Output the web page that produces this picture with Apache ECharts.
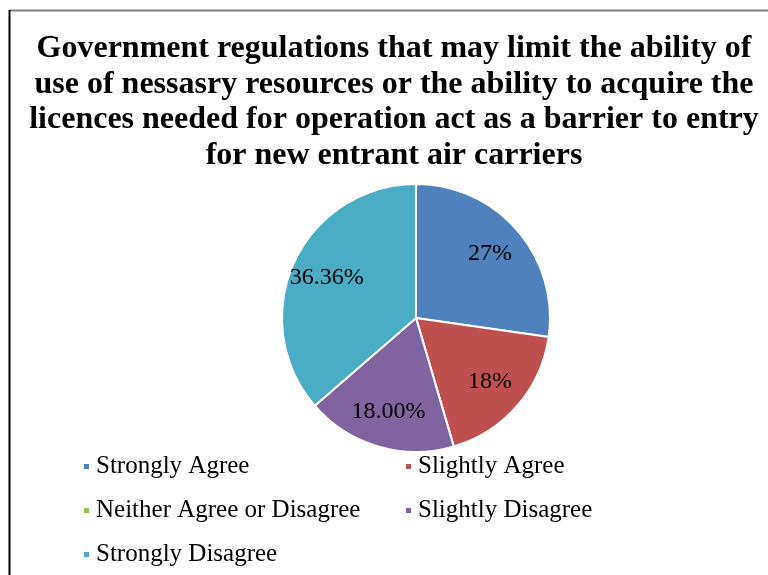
<!DOCTYPE html>
<html>
<head>
<meta charset="utf-8">
<script src="https://cdn.jsdelivr.net/npm/echarts@6/dist/echarts.min.js"></script>
<style>
  html, body { margin: 0; padding: 0; background: #fff; }
  #main { width: 768px; height: 575px; }
</style>
</head>
<body>
<div id="main"></div>
<script>
// chart data
var categories = ['Strongly Agree', 'Slightly Agree', 'Neither Agree or Disagree', 'Slightly Disagree', 'Strongly Disagree'];
var counts = [3, 2, 0, 2, 4];
var pctLabels = ['27%', '18%', '0%', '18.00%', '36.36%'];
var colors = ['#4F81BD', '#C0504D', '#9BBB59', '#8064A2', '#4BACC6'];

var titleText = 'Government regulations that may limit the ability of\n' +
  'use of nessasry resources or the ability to acquire the\n' +
  'licences needed for operation act as a barrier to entry\n' +
  'for new entrant air carriers';

var slices = categories.map(function (c, i) {
  return { name: c, value: counts[i], itemStyle: { color: colors[i] } };
});
// transparent copy only used to place the labels further out
var labelSlices = categories.map(function (c, i) {
  return {
    name: c, value: counts[i],
    label: { show: counts[i] > 0, formatter: pctLabels[i] }
  };
});

var legendText = { fontFamily: 'Liberation Serif', fontSize: 25, color: '#000', padding: [0, 0, 0, 1] };

var myChart = echarts.init(document.getElementById('main'));
myChart.setOption({
  animation: false,
  color: colors,
  title: {
    text: titleText,
    left: 389,
    textAlign: 'center',
    top: 26,
    textStyle: {
      fontFamily: 'Liberation Serif',
      fontWeight: 'bold',
      fontSize: 32,
      lineHeight: 35.5,
      color: '#000'
    }
  },
  legend: [
    {
      data: ['Strongly Agree', 'Neither Agree or Disagree', 'Strongly Disagree'],
      orient: 'vertical',
      left: 77,
      top: 449,
      itemWidth: 7,
      itemHeight: 7,
      itemGap: 19,
      icon: 'rect',
      textStyle: legendText
    },
    {
      data: ['Slightly Agree', 'Slightly Disagree'],
      orient: 'vertical',
      left: 399,
      top: 449,
      itemWidth: 7,
      itemHeight: 7,
      itemGap: 19,
      icon: 'rect',
      textStyle: legendText
    }
  ],
  graphic: [
    { type: 'line', shape: { x1: 9, y1: 10.5, x2: 768, y2: 10.5 }, style: { stroke: '#7f7f7f', lineWidth: 2 } },
    { type: 'line', shape: { x1: 9.5, y1: 10, x2: 9.5, y2: 575 }, style: { stroke: '#000', lineWidth: 2 } }
  ],
  series: [
    {
      type: 'pie',
      center: [416, 318],
      radius: [0, 134],
      startAngle: 90,
      clockwise: true,
      label: { show: false },
      labelLine: { show: false },
      itemStyle: { borderColor: '#fff', borderWidth: 2 },
      data: slices
    },
    {
      type: 'pie',
      silent: true,
      center: [416, 318],
      radius: [0, 190],
      startAngle: 90,
      clockwise: true,
      legendHoverLink: false,
      itemStyle: { color: 'rgba(0,0,0,0)' },
      label: {
        position: 'inside',
        fontFamily: 'Liberation Serif',
        fontSize: 24,
        color: '#000'
      },
      labelLine: { show: false },
      data: labelSlices
    }
  ]
});
</script>
</body>
</html>
